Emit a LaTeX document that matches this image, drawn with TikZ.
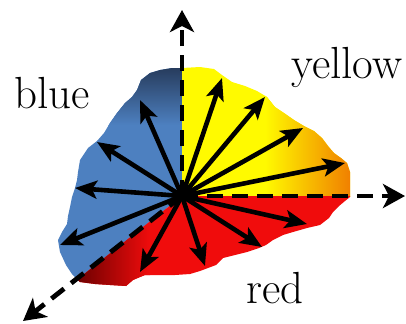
\documentclass[tikz,border=0pt]{standalone}
\usepackage{tikz}
\usetikzlibrary{arrows.meta}
\definecolor{bluepatch}{RGB}{77,128,192}
\definecolor{bluedeep}{RGB}{38,58,90}
\definecolor{yellowpatch}{RGB}{255,250,0}
\definecolor{orangepatch}{RGB}{240,125,0}
\definecolor{redpatch}{RGB}{240,12,12}
\definecolor{reddeep}{RGB}{105,0,0}
% torn outline of the colour patch (pixel units)
\newcommand{\leafoutline}{(182,68) -- (200,67) -- (214,69) -- (222,75) -- (232,82) -- (245,86)
  -- (257,91) -- (267,97) -- (275,107) -- (284,113) -- (294,120) -- (304,126) -- (314,131)
  -- (322,138) -- (328,146) -- (334,153) -- (341,158) -- (347,163) -- (350,172) -- (350,197)
  -- (345,201) -- (339,206) -- (333,212) -- (329,218) -- (320,225) -- (307,228) -- (293,232)
  -- (283,235) -- (273,240) -- (266,245) -- (259,248) -- (247,252) -- (235,255) -- (223,258)
  -- (216,265) -- (208,268) -- (200,271) -- (190,274) -- (175,275) -- (160,275) -- (145,275)
  -- (140,277) -- (133,280) -- (126,286) -- (110,285) -- (95,284) -- (80,282) -- (72,274)
  -- (66,265) -- (60,252) -- (58,240) -- (62,232) -- (67,224) -- (68,216) -- (70,207)
  -- (72,197) -- (75,188) -- (77,180) -- (78,172) -- (80,160) -- (88,148) -- (97,141)
  -- (104,133) -- (110,123) -- (117,113) -- (125,103) -- (132,97) -- (137,90) -- (141,80)
  -- (150,73) -- (160,70) -- (172,68) -- cycle}

\begin{document}
\begin{tikzpicture}[x=0.5pt,y=-0.5pt,>=Stealth,
    ray/.style={->,line width=2.3pt,>={Stealth[length=11pt,width=9pt,inset=2.5pt]}},
    axis/.style={->,line width=2.4pt,dash pattern=on 8pt off 4.5pt,
      >={Stealth[length=11pt,width=12pt,inset=3pt]}},
    lbl/.style={anchor=base,font=\fontsize{22.5}{26}\selectfont}]
  \useasboundingbox (0,0) rectangle (406,323);
  \coordinate (o) at (182,196);

  % blue sector
  \begin{scope}
    \clip \leafoutline;
    \clip (182,196) -- (182,-10) -- (-10,-10) -- (-10,349) -- cycle;
    \fill[bluepatch] (0,0) rectangle (406,323);
    \shade[top color=bluedeep,bottom color=bluepatch] (50,66) rectangle (182,125);
  \end{scope}
  % yellow sector
  \begin{scope}
    \clip \leafoutline;
    \clip (182,196) -- (182,-10) -- (420,-10) -- (420,196) -- cycle;
    \fill[yellowpatch] (0,0) rectangle (406,323);
    \shade[left color=yellowpatch,right color=orangepatch] (265,60) rectangle (352,200);
  \end{scope}
  % red sector
  \begin{scope}
    \clip \leafoutline;
    \clip (182,196) -- (420,196) -- (420,340) -- (-10,349) -- cycle;
    \fill[redpatch] (0,0) rectangle (406,323);
    \shade[left color=reddeep,right color=redpatch] (75,200) rectangle (150,290);
  \end{scope}

  % axes
  \coordinate (up) at (182,10);
  \coordinate (right) at (405,196);
  \coordinate (down) at (23,321);
  \draw[axis] (o) -- (up);
  \draw[axis] (o) -- (right);
  \draw[axis] (o) -- (down);

  % arrows
  \foreach \px/\py [count=\i] in {140/100,97/142,75/188,60/245,
      222/78,265/97,303/128,345/163,
      307/224,262/247,205/266,140/272}{
    \coordinate (tip\i) at (\px,\py);
    \draw[ray] (o) -- (tip\i);
  }

  \node[lbl] (blue) at (52,108) {blue};
  \node[lbl] (yellow) at (347,78) {yellow};
  \node[lbl] (red) at (275,303) {red};
\end{tikzpicture}
\end{document}
